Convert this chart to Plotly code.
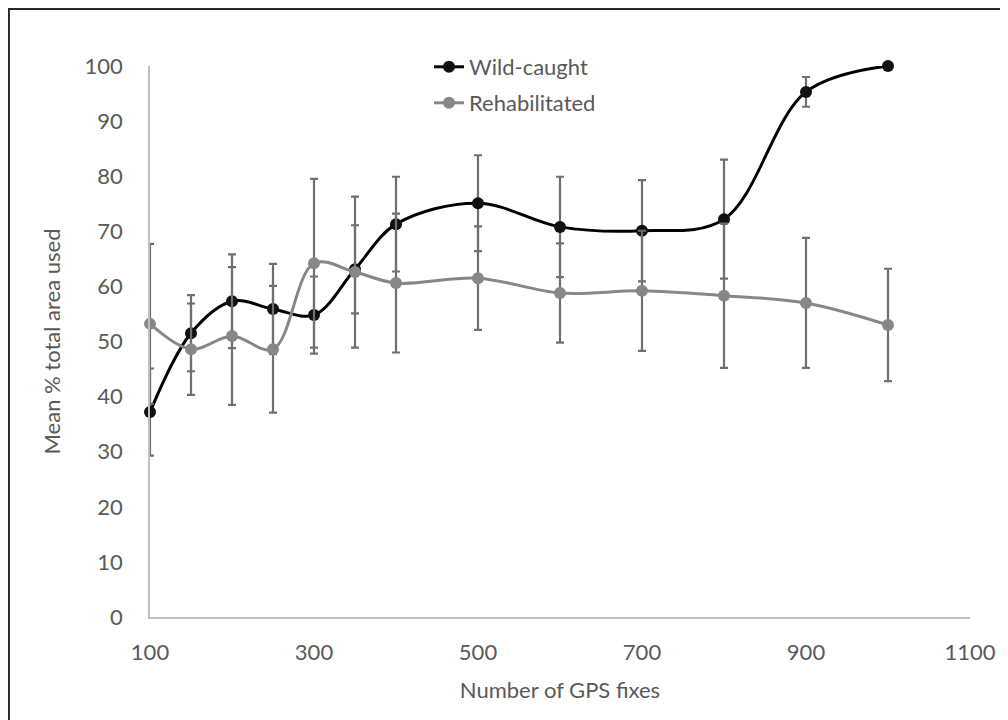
import plotly.graph_objects as go

gps_fixes = [100, 150, 200, 250, 300, 350, 400, 500, 600, 700, 800, 900, 1000]
wild_mean = [37.2, 51.5, 57.3, 55.9, 54.8, 63.1, 71.3, 75.1, 70.8, 70.1, 72.2, 95.3, 100.0]
wild_err = [7.9, 6.9, 8.5, 8.2, 7.0, 8.0, 8.6, 8.7, 9.1, 9.2, 10.8, 2.7, 0.0]
rehab_mean = [53.2, 48.6, 51.0, 48.6, 64.2, 62.6, 60.6, 61.5, 58.8, 59.2, 58.3, 57.0, 53.0]
rehab_err = [14.5, 8.3, 12.5, 11.5, 15.3, 13.7, 12.6, 9.4, 9.0, 10.9, 13.1, 11.8, 10.2]

ERR_COLOR = "#6f6f6f"
TEXT_COLOR = "#595959"
FONT = "Lato, Open Sans, sans-serif"
FS = 22

# page has an 8px body margin; layout coords = page coords - 8
W, H = 1000, 712
L, R, T, B = 142, 38, 58, 103
pw, ph = W - L - R, H - T - B


def px_x(x):
    return (x - L) / pw


def px_y(y):
    return 1 - (y - T) / ph


fig = go.Figure()
fig.add_trace(go.Scatter(
    x=gps_fixes, y=wild_mean, name="Wild-caught", mode="lines+markers",
    line=dict(color="#000000", width=3, shape="spline", smoothing=1),
    marker=dict(color="#111111", size=12),
    error_y=dict(type="data", array=wild_err, symmetric=True, color=ERR_COLOR, thickness=2.2, width=4),
    legend="legend", cliponaxis=False,
))
fig.add_trace(go.Scatter(
    x=gps_fixes, y=rehab_mean, name="Rehabilitated", mode="lines+markers",
    line=dict(color="#878787", width=3, shape="spline", smoothing=1),
    marker=dict(color="#878787", size=12),
    error_y=dict(type="data", array=rehab_err, symmetric=True, color=ERR_COLOR, thickness=2.2, width=4),
    legend="legend2", cliponaxis=False,
))

leg_common = dict(xanchor="left", yanchor="middle", bgcolor="rgba(0,0,0,0)",
                  font=dict(size=FS, color=TEXT_COLOR, family=FONT), itemwidth=30)

fig.update_layout(
    width=W, height=H,
    margin=dict(l=L, r=R, t=T, b=B),
    paper_bgcolor="white", plot_bgcolor="white",
    font=dict(family=FONT, color=TEXT_COLOR, size=FS),
    showlegend=True,
    legend=dict(x=px_x(429 - 8), y=px_y(67 - 8), **leg_common),
    legend2=dict(x=px_x(429 - 8), y=px_y(103 - 8), **leg_common),
    xaxis=dict(range=[100, 1100], tick0=100, dtick=200, showgrid=False, zeroline=False,
               showline=True, linecolor="#bfbfbf", linewidth=1.5, ticks="",
               ticklabelstandoff=15, tickfont=dict(size=FS),
               title=dict(text="Number of GPS fixes", standoff=18, font=dict(size=FS))),
    yaxis=dict(range=[0, 100], tick0=0, dtick=10, showgrid=False, zeroline=False,
               showline=True, linecolor="#bfbfbf", linewidth=1.5, ticks="",
               ticklabelstandoff=21, tickfont=dict(size=FS),
               title=dict(text="Mean % total area used", standoff=18, font=dict(size=FS))),
    shapes=[
        dict(type="line", xref="paper", yref="paper",
             x0=px_x(0.9), x1=px_x(0.9), y0=px_y(712), y1=px_y(0.0),
             line=dict(color="#262626", width=2)),
        dict(type="line", xref="paper", yref="paper",
             x0=px_x(0.0), x1=px_x(1000), y0=px_y(0.9), y1=px_y(0.9),
             line=dict(color="#262626", width=2)),
    ],
)

fig.write_html("out.html")
